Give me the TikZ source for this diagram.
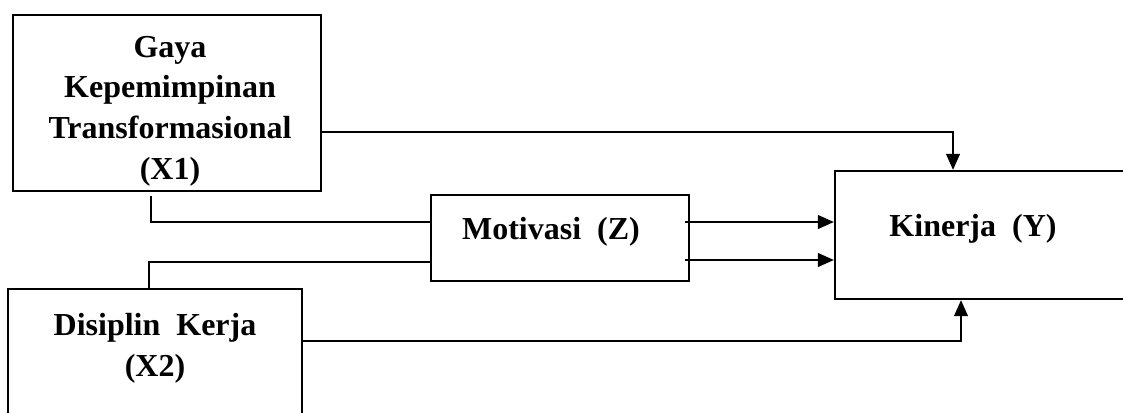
\documentclass[tikz,border=0pt]{standalone}
\usepackage{fontspec}
\setmainfont{Liberation Serif}
\usetikzlibrary{arrows.meta}
\begin{document}
\begin{tikzpicture}[x=0.75pt,y=-0.75pt,
  box/.style={draw, line width=1.8pt, rectangle, inner sep=0pt},
  lbl/.style={font=\bfseries\fontsize{24}{30.5}\selectfont, align=center, inner sep=0pt},
  conn/.style={line width=0.8pt},
  arr/.style={conn, -{Triangle[length=12pt,width=10.5pt]}}]
\useasboundingbox (0,0) rectangle (1123,412);
\clip (0,0) rectangle (1123,412);
% boxes
\node[box, minimum width=231pt, minimum height=132pt] (X1) at (167,103) {};
\node[box, minimum width=220.5pt, minimum height=135.75pt] (X2) at (155,379.5) {};
\node[box, minimum width=193.5pt, minimum height=64.5pt] (Z) at (560,238) {};
\node[box, minimum width=243.75pt, minimum height=96pt] (Y) at (997.5,235) {};
% labels
\node[lbl] (tX1) at (170,111) {Gaya\\Kepemimpinan\\Transformasional\\(X1)};
\node[lbl] (tX2) at (155,348) {Disiplin\ \ Kerja\\(X2)};
\node[lbl] (tZ) at (551,232) {Motivasi\ \ (Z)};
\node[lbl] (tY) at (973,229) {Kinerja\ \ (Y)};
% connectors
\coordinate (c1) at (151,196);
\draw[conn] (c1) |- (Z.west |- 0,222);
\draw[conn] (X2.north -| 149,0) |- (Z.west |- 0,262);
\draw[arr] (X1.east |- 0,132) -| (953,0 |- Y.north);
\draw[arr] (X2.east |- 0,341) -| (961,0 |- Y.south);
\draw[arr] (685,222) -- (Y.west |- 0,222);
\draw[arr] (685,260) -- (Y.west |- 0,260);
\end{tikzpicture}
\end{document}
